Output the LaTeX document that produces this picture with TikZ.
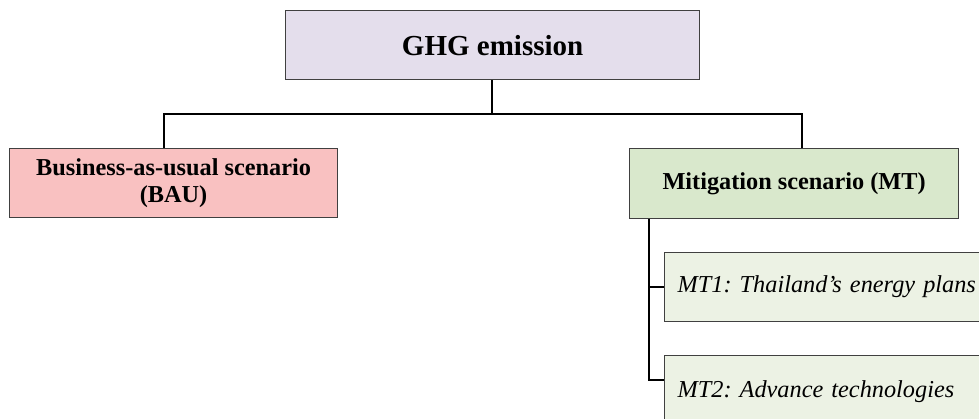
\documentclass[tikz,border=0pt]{standalone}
\usepackage{fontspec}
\setmainfont{Liberation Serif}
\frenchspacing
\definecolor{ghgfill}{RGB}{228,222,236}
\definecolor{baufill}{RGB}{249,193,193}
\definecolor{mtfill}{RGB}{217,232,204}
\definecolor{subfill}{RGB}{236,242,228}
\definecolor{edge}{RGB}{64,64,64}
\tikzset{
  boxstyle/.style={draw=edge, line width=1.2pt, inner sep=0pt},
  conn/.style={draw=black, line width=1.4pt},
}
\begin{document}
\begin{tikzpicture}[x=1pt,y=-1pt]
\clip (0,0) rectangle (979,419);
\fill[white] (0,0) rectangle (979,419);
% boxes
\node[boxstyle, fill=ghgfill, minimum width=414pt, minimum height=69pt, anchor=north west,
      font=\fontsize{29}{34}\selectfont\bfseries] (ghg) at (285,10) {GHG emission};
\node[boxstyle, fill=baufill, minimum width=328pt, minimum height=69pt, anchor=north west,
      align=center, font=\fontsize{24.3}{26.5}\selectfont\bfseries] (bau) at (9,148)
      {Business-as-usual scenario\\(BAU)};
\node[boxstyle, fill=mtfill, minimum width=329pt, minimum height=70pt, anchor=north west,
      font=\fontsize{24.3}{28}\selectfont\bfseries] (mt) at (629,148) {Mitigation scenario (MT)};
\node[boxstyle, fill=subfill, minimum width=360pt, minimum height=69pt, anchor=north west,
      text width=347pt, align=left, inner xsep=13pt,
      font=\fontsize{24.3}{28}\selectfont\itshape] (mt1) at (664,252) {MT1: Thailand’s energy plans};
\node[boxstyle, fill=subfill, minimum width=360pt, minimum height=72pt, anchor=north west,
      text width=347pt, align=left, inner xsep=13pt,
      font=\fontsize{24.3}{28}\selectfont\itshape] (mt2) at (664,355) {MT2: Advance technologies};
% connectors
\coordinate (jn) at (492,114);
\coordinate (jl) at (164,114);
\coordinate (jr) at (802,114);
\coordinate (trunk) at (649,0);
\draw[conn] (ghg.south -| jn) -- (jn);
\draw[conn] (bau.north -| jl) -- (jl) -- (jr) -- (mt.north -| jr);
\draw[conn] (mt.south -| trunk) -- (trunk |- 0,380) -- (mt2.west |- 0,380);
\draw[conn] (trunk |- mt1.west) -- (mt1.west);
\end{tikzpicture}
\end{document}
